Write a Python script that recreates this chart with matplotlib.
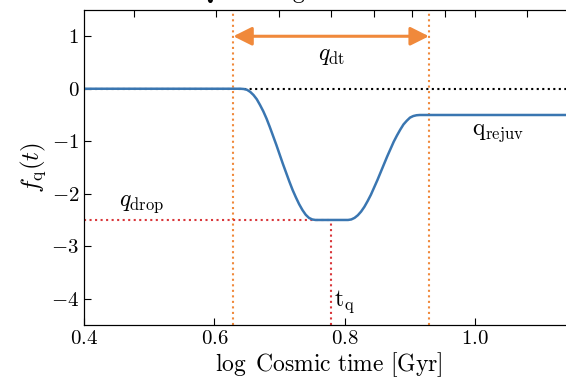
import numpy as np
import matplotlib
matplotlib.use("Agg")
import matplotlib.pyplot as plt

plt.rcParams['font.family'] = 'serif'
plt.rcParams['font.serif'] = ['cmr10']
plt.rcParams['mathtext.fontset'] = 'cm'
plt.rcParams['axes.formatter.use_mathtext'] = True

# quenching history
log_t = [0.40, 0.640, 0.645, 0.650, 0.655, 0.660, 0.665, 0.670, 0.675, 0.680,
         0.685, 0.690, 0.695, 0.700, 0.705, 0.710, 0.715, 0.720, 0.725, 0.730,
         0.735, 0.740, 0.745, 0.750, 0.755, 0.760, 0.805, 0.810, 0.815, 0.820,
         0.825, 0.830, 0.835, 0.840, 0.845, 0.850, 0.855, 0.860, 0.865, 0.870,
         0.875, 0.880, 0.885, 0.890, 0.895, 0.900, 0.905, 0.910, 0.915, 1.15]
f_q = [0.0, 0.0, -0.005, -0.02, -0.06, -0.12, -0.20, -0.31, -0.43, -0.57,
       -0.73, -0.90, -1.07, -1.25, -1.43, -1.60, -1.77, -1.93, -2.07, -2.20,
       -2.31, -2.40, -2.46, -2.49, -2.50, -2.50, -2.50, -2.49, -2.46, -2.41,
       -2.34, -2.25, -2.14, -2.02, -1.88, -1.74, -1.59, -1.44, -1.29, -1.15,
       -1.01, -0.89, -0.78, -0.68, -0.61, -0.55, -0.52, -0.505, -0.50, -0.50]

t_start = 0.629
t_end = 0.929
t_q = 0.779
q_drop = -2.5

# top axis ticks: cosmic time in Gyr
top_ticks_gyr = [3, 4, 5, 6, 7, 8, 9, 10, 12]

blue = '#3a76b1'
orange = '#f0893b'
red = '#d9363a'

fig = plt.figure(figsize=(5.66, 3.85), dpi=100)
ax = fig.add_axes([0.1484, 0.156, 0.864, 0.818])

ax.axhline(0, color='k', ls=':', lw=1.5, zorder=1)
ax.axvline(t_start, color=orange, ls=':', lw=1.5, zorder=1)
ax.axvline(t_end, color=orange, ls=':', lw=1.5, zorder=1)
ax.plot([0.4, t_q], [q_drop, q_drop], color=red, ls=':', lw=1.5, zorder=1)
ax.plot([t_q, t_q], [-4.5, q_drop], color=red, ls=':', lw=1.5, zorder=1)
ax.plot(log_t, f_q, color=blue, lw=1.8, zorder=3)

ax.annotate('', xy=(t_end, 1.0), xytext=(t_start, 1.0),
            arrowprops=dict(arrowstyle='<|-|>', color=orange, lw=2.2,
                            mutation_scale=28, shrinkA=0, shrinkB=0))

ax.text(0.78, 0.62, r'$q_{\rm dt}$', fontsize=17, ha='center', va='center')
ax.text(0.453, -2.2, r'$q_{\rm drop}$', fontsize=17, ha='left', va='center')
ax.text(0.783, -4.05, r'$\rm t_q$', fontsize=17, ha='left', va='center')
ax.text(0.995, -0.85, r'$\rm q_{rejuv}$', fontsize=17, ha='left', va='center')

ax.set_xlim(0.4, 1.15)
ax.set_ylim(-4.5, 1.5)
ax.set_xticks([0.4, 0.6, 0.8, 1.0])
ax.set_yticks([1, 0, -1, -2, -3, -4])
ax.set_xlabel(r'$\log{\rm\ Cosmic\ time\ [Gyr]}$', fontsize=17, labelpad=2)
ax.set_ylabel(r'$f_{\rm q}(t)$', fontsize=18, labelpad=2)
ax.tick_params(direction='in', labelsize=15, length=5, right=True)

top = ax.twiny()
top.set_xlim(ax.get_xlim())
top.set_xticks(np.log10(top_ticks_gyr))
top.set_xticklabels([])
top.tick_params(direction='in', length=5)

# title sits above the figure; only its descenders peek in, as in the reference
fig.text(0.345, 1.004, 'Quenching', fontsize=17, ha='left', va='baseline')

fig.savefig('out.png', dpi=100)
